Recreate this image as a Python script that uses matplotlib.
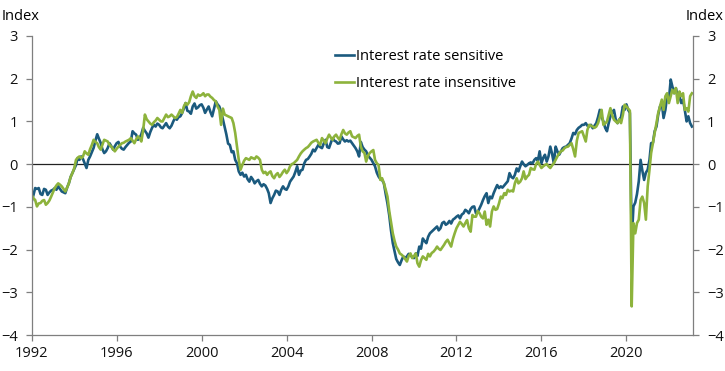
"""Interest rate sensitive vs insensitive index, monthly 1992-2023."""
import matplotlib
matplotlib.use("Agg")
import matplotlib.pyplot as plt  # noqa: E402
import matplotlib.dates as mdates  # noqa: E402
import pandas as pd  # noqa: E402

plt.rcParams["font.family"] = ["Open Sans", "DejaVu Sans"]

# monthly values, one row per year (Jan 1992 .. Feb 2023)
sensitive = [
    -0.88, -0.72, -0.56, -0.58, -0.56, -0.70, -0.72, -0.58, -0.60, -0.72, -0.66, -0.62,  # 1992
    -0.60, -0.56, -0.60, -0.52, -0.58, -0.64, -0.66, -0.68, -0.55, -0.45, -0.30, -0.21,  # 1993
    -0.12, -0.02, 0.14, 0.10, 0.18, 0.12, 0.02, -0.09, 0.10, 0.18, 0.28, 0.38,  # 1994
    0.55, 0.70, 0.60, 0.50, 0.35, 0.26, 0.30, 0.38, 0.49, 0.42, 0.34, 0.42,  # 1995
    0.49, 0.52, 0.41, 0.36, 0.34, 0.40, 0.45, 0.50, 0.53, 0.77, 0.72, 0.69,  # 1996
    0.57, 0.62, 0.70, 0.85, 0.78, 0.72, 0.62, 0.75, 0.85, 0.92, 0.88, 0.95,  # 1997
    0.92, 0.86, 0.84, 0.90, 0.96, 0.88, 0.84, 0.90, 1.00, 1.08, 1.04, 1.10,  # 1998
    1.12, 1.20, 1.30, 1.43, 1.25, 1.23, 1.18, 1.35, 1.42, 1.30, 1.33, 1.38,  # 1999
    1.40, 1.32, 1.20, 1.28, 1.35, 1.22, 1.12, 1.30, 1.47, 1.40, 1.35, 1.22,  # 2000
    1.05, 0.86, 0.70, 0.48, 0.45, 0.28, 0.30, 0.10, 0.02, -0.17, -0.25, -0.20,  # 2001
    -0.29, -0.25, -0.35, -0.41, -0.30, -0.36, -0.45, -0.40, -0.37, -0.46, -0.52, -0.47,  # 2002
    -0.50, -0.58, -0.68, -0.91, -0.80, -0.72, -0.62, -0.64, -0.72, -0.60, -0.52, -0.58,  # 2003
    -0.60, -0.52, -0.41, -0.35, -0.29, -0.18, -0.05, -0.25, -0.15, -0.13, 0.02, 0.10,  # 2004
    0.12, 0.18, 0.24, 0.34, 0.30, 0.38, 0.45, 0.40, 0.375, 0.48, 0.57, 0.40,  # 2005
    0.38, 0.50, 0.61, 0.55, 0.53, 0.48, 0.49, 0.65, 0.58, 0.53, 0.56, 0.53,  # 2006
    0.55, 0.49, 0.44, 0.375, 0.30, 0.18, 0.52, 0.40, 0.34, 0.30, 0.20, 0.15,  # 2007
    0.10, 0.02, -0.05, -0.20, -0.29, -0.35, -0.37, -0.45, -0.70, -0.92, -1.20, -1.55,  # 2008
    -1.85, -2.05, -2.22, -2.30, -2.36, -2.25, -2.16, -2.20, -2.16, -2.10, -2.13, -2.18,  # 2009
    -2.20, -2.09, -2.15, -1.93, -1.98, -1.74, -1.80, -1.85, -1.70, -1.62, -1.58, -1.54,  # 2010
    -1.50, -1.46, -1.55, -1.50, -1.38, -1.35, -1.42, -1.39, -1.33, -1.39, -1.30, -1.27,  # 2011
    -1.23, -1.20, -1.27, -1.18, -1.15, -1.07, -1.10, -1.15, -1.05, -1.00, -0.99, -1.15,  # 2012
    -1.12, -1.03, -0.95, -0.84, -0.75, -0.68, -0.91, -0.76, -0.80, -0.68, -0.58, -0.49,  # 2013
    -0.56, -0.52, -0.55, -0.50, -0.45, -0.40, -0.21, -0.30, -0.33, -0.25, -0.10, -0.17,  # 2014
    -0.05, 0.06, 0.00, -0.05, -0.02, 0.02, 0.04, 0.02, 0.10, 0.14, 0.08, 0.30,  # 2015
    0.02, 0.15, 0.22, 0.06, 0.18, 0.41, 0.25, 0.02, 0.41, 0.30, 0.22, 0.30,  # 2016
    0.375, 0.40, 0.41, 0.45, 0.49, 0.60, 0.73, 0.70, 0.80, 0.85, 0.88, 0.92,  # 2017
    0.92, 0.96, 0.90, 0.88, 0.92, 0.84, 0.90, 0.96, 1.10, 1.27, 1.10, 1.00,  # 2018
    0.85, 0.77, 0.95, 1.12, 1.20, 1.27, 1.05, 0.96, 1.04, 1.10, 1.35, 1.27,  # 2019
    1.40, 1.27, 1.20, -1.81, -0.99, -0.90, -0.70, -0.40, 0.10, -0.15, -0.37, -0.20,  # 2020
    -0.13, 0.10, 0.49, 0.50, 0.77, 0.88, 1.16, 1.35, 1.43, 1.08, 1.27, 1.59,  # 2021
    1.51, 1.98, 1.82, 1.66, 1.78, 1.59, 1.59, 1.43, 1.51, 1.27, 1.00, 1.12,  # 2022
    0.96, 0.88,  # 2023
]

insensitive = [
    -0.72, -0.80, -0.84, -0.99, -0.92, -0.91, -0.86, -0.84, -0.95, -0.91, -0.85, -0.76,  # 1992
    -0.66, -0.56, -0.50, -0.45, -0.48, -0.52, -0.58, -0.64, -0.55, -0.45, -0.30, -0.21,  # 1993
    -0.10, 0.10, 0.15, 0.18, 0.14, 0.18, 0.30, 0.25, 0.22, 0.35, 0.45, 0.57,  # 1994
    0.52, 0.49, 0.40, 0.34, 0.45, 0.57, 0.55, 0.53, 0.45, 0.41, 0.35, 0.30,  # 1995
    0.36, 0.41, 0.45, 0.49, 0.50, 0.53, 0.55, 0.57, 0.61, 0.55, 0.49, 0.58,  # 1996
    0.65, 0.60, 0.53, 0.80, 1.16, 1.05, 1.00, 0.95, 0.92, 0.98, 1.02, 1.08,  # 1997
    1.04, 1.00, 1.00, 1.08, 1.16, 1.10, 1.12, 1.16, 1.12, 1.08, 1.10, 1.18,  # 1998
    1.27, 1.20, 1.35, 1.43, 1.39, 1.45, 1.59, 1.70, 1.59, 1.55, 1.63, 1.60,  # 1999
    1.62, 1.66, 1.59, 1.63, 1.63, 1.58, 1.55, 1.50, 1.47, 1.35, 1.27, 0.92,  # 2000
    1.30, 1.16, 1.14, 1.12, 1.10, 1.08, 0.96, 0.73, 0.41, 0.10, -0.13, -0.02,  # 2001
    0.08, 0.14, 0.12, 0.10, 0.16, 0.14, 0.12, 0.18, 0.15, 0.10, -0.13, -0.21,  # 2002
    -0.18, -0.25, -0.20, -0.17, -0.28, -0.33, -0.25, -0.21, -0.30, -0.25, -0.18, -0.13,  # 2003
    -0.21, -0.15, -0.05, 0.00, 0.02, 0.06, 0.10, 0.18, 0.25, 0.30, 0.34, 0.375,  # 2004
    0.40, 0.45, 0.50, 0.53, 0.55, 0.57, 0.50, 0.45, 0.61, 0.55, 0.49, 0.60,  # 2005
    0.69, 0.62, 0.57, 0.65, 0.69, 0.62, 0.57, 0.70, 0.80, 0.72, 0.69, 0.74,  # 2006
    0.77, 0.65, 0.63, 0.61, 0.66, 0.69, 0.41, 0.30, 0.26, 0.06, 0.20, 0.26,  # 2007
    0.30, 0.33, 0.10, 0.02, -0.02, -0.37, -0.33, -0.45, -0.60, -0.76, -1.10, -1.35,  # 2008
    -1.62, -1.80, -1.93, -2.00, -2.09, -2.12, -2.16, -2.22, -2.28, -2.15, -2.09, -2.20,  # 2009
    -2.15, -2.09, -2.32, -2.40, -2.25, -2.16, -2.20, -2.24, -2.10, -2.16, -2.08, -2.05,  # 2010
    -2.00, -1.93, -1.98, -2.01, -1.95, -1.89, -1.82, -1.77, -1.85, -1.93, -1.75, -1.62,  # 2011
    -1.50, -1.42, -1.35, -1.40, -1.46, -1.38, -1.31, -1.50, -1.58, -1.19, -1.23, -1.23,  # 2012
    -1.10, -1.15, -1.23, -1.27, -1.11, -1.42, -1.30, -1.46, -1.11, -0.99, -1.07, -1.05,  # 2013
    -0.92, -0.76, -0.80, -0.68, -0.72, -0.60, -0.64, -0.62, -0.64, -0.45, -0.33, -0.45,  # 2014
    -0.41, -0.33, -0.17, -0.35, -0.29, -0.25, -0.09, -0.12, -0.13, 0.00, 0.06, -0.02,  # 2015
    -0.09, -0.05, -0.02, 0.00, -0.05, -0.09, -0.03, 0.02, 0.10, 0.18, 0.25, 0.30,  # 2016
    0.32, 0.375, 0.40, 0.41, 0.45, 0.49, 0.35, 0.18, 0.55, 0.73, 0.75, 0.77,  # 2017
    0.65, 0.53, 0.80, 0.92, 0.90, 0.88, 0.85, 0.88, 0.96, 1.10, 1.27, 0.92,  # 2018
    0.95, 1.00, 1.15, 1.31, 1.15, 1.04, 1.00, 0.96, 1.05, 0.96, 1.15, 1.39,  # 2019
    1.35, 1.30, 1.25, -3.33, -1.38, -1.62, -1.38, -1.30, -0.84, -0.76, -0.91, -1.30,  # 2020
    -0.52, -0.13, 0.26, 0.49, 0.73, 0.96, 1.20, 1.35, 1.51, 1.27, 1.59, 1.66,  # 2021
    1.43, 1.59, 1.74, 1.66, 1.78, 1.43, 1.70, 1.59, 1.66, 1.27, 1.31, 1.23,  # 2022
    1.59, 1.66,  # 2023
]

dates = pd.date_range("1992-01-01", periods=len(sensitive), freq="MS")

BLUE = "#1b5a7e"
GREEN = "#8db33c"
GRAY = "#7f7f7f"

fig = plt.figure(figsize=(7.25, 3.71), dpi=100)
ax = fig.add_axes([0.0437, 0.097, 0.9123, 0.806])

ax.plot(dates, sensitive, color=BLUE, lw=1.9, label="Interest rate sensitive")
ax.plot(dates, insensitive, color=GREEN, lw=1.9, label="Interest rate insensitive")
ax.axhline(0, color="#222222", lw=0.9, zorder=1)

ax.set_xlim(dates[0], dates[-1] + pd.Timedelta(days=20))
ax.set_ylim(-4, 3)
ax.set_yticks(range(-4, 4))
ax.xaxis.set_major_locator(mdates.YearLocator(4))
ax.xaxis.set_major_formatter(mdates.DateFormatter("%Y"))

ax.spines["top"].set_visible(False)
for side in ("left", "right", "bottom"):
    ax.spines[side].set_color(GRAY)
    ax.spines[side].set_linewidth(0.9)
ax.tick_params(axis="both", colors=GRAY, labelcolor="#111111", labelsize=10.5,
               length=4, width=0.9)
ax.tick_params(axis="y", right=True, labelright=True, pad=6)
ax.tick_params(axis="x", pad=4)

fig.text(0.002, 0.955, "Index", fontsize=10.5, ha="left", va="center")
fig.text(0.998, 0.955, "Index", fontsize=10.5, ha="right", va="center")

ax.legend(loc="upper left", bbox_to_anchor=(0.448, 0.895), bbox_transform=fig.transFigure,
          frameon=False, fontsize=10.5, handlelength=1.3, handletextpad=0.15,
          labelspacing=0.8, borderpad=0.2)

fig.savefig("out.png", dpi=100)
